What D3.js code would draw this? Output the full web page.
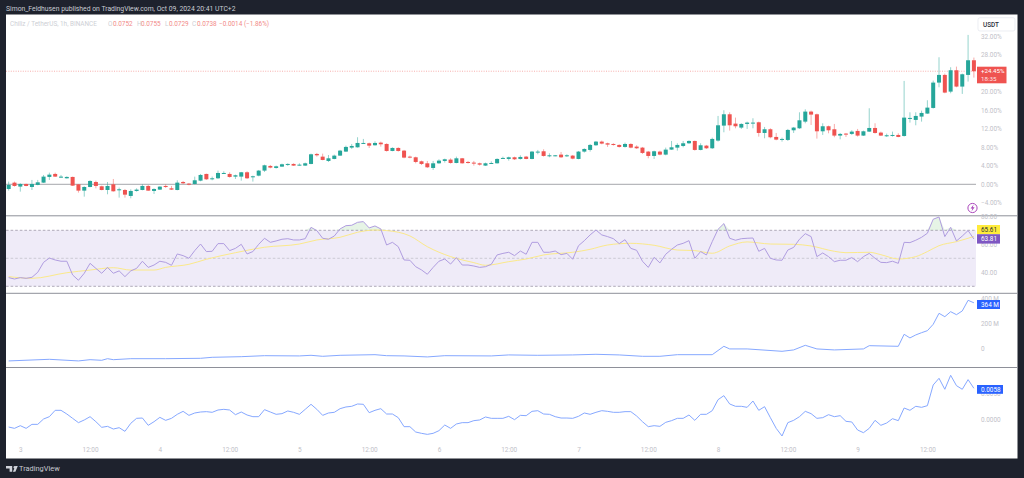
<!DOCTYPE html>
<html><head><meta charset="utf-8">
<script src="https://cdn.jsdelivr.net/npm/d3@7/dist/d3.min.js"></script>
<style>html,body{margin:0;padding:0;background:#1e222d;overflow:hidden}svg{display:block}text{font-family:Roboto,sans-serif}</style>
</head><body><svg id="c" width="1024" height="478"></svg>
<script>
// Candle values, % change against the chart's start
const opens=[-1.01,.36,-.50,.07,-.58,-.14,.36,1.59,2.24,1.44,
1.30,1.59,0,-1.37,-.58,.50,-.43,-1.23,0,-1.30,
-1.23,-2.52,-1.44,-1.23,-.36,-1.44,-1.15,-.36,-.87,-1.23,
.50,.14,.07,.79,2.24,1.08,1.30,2.31,2.24,1.66,
1.66,2.60,1.59,1.87,2.96,3.97,3.53,3.82,4.25,4.40,
4.11,4.04,4.40,6.56,5.98,5.05,5.48,6.20,
7.07,7.93,8.00,8.80,8.87,8.44,9.01,8.72,7.21,7.86,
7.28,5.98,5.84,4.97,4.54,3.53,4.54,5.05,5.34,4.61,
5.62,4.83,4.69,4.54,4.04,4.47,4.54,5.55,5.48,5.84,
5.48,5.98,5.48,6.92,7.14,6.13,6.13,6.42,6.13,6.20,
5.48,7.07,7.43,8.44,9.23,8.87,8.72,8.51,8.08,8.72,
8.15,7.93,7.07,6.13,7.07,6.42,7.50,7.93,
8.29,8.87,9.37,7.43,8.36,7.79,9.45,12.69,15.14,13.12,
12.26,13.05,13.19,13.41,11.10,11.90,10.24,9.66,9.59,11.68,
12.11,13.55,15.72,15.14,11.46,12.55,11.90,10.53,10.96,10.89,
11.54,10.53,11.39,12.18,11.18,10.53,10.53,10.67,10.45,14.20,
13.92,14.64,15.29,16.51,21.99,23.65,20.04,24.66,21.13,23.65,26.82];
const highs=[.58,.58,.22,.14,.94,.94,2.02,2.52,2.52,2.02,
1.73,1.66,0,-.43,.87,.79,-.29,.50,1.15,-.72,
-1.01,-1.08,-.87,0,-.14,-.87,-.43,0,-.36,.87,
.72,.29,1.66,2.24,2.31,1.66,2.96,2.81,2.60,2.09,
2.67,2.81,1.87,3.10,4.25,4.18,4.04,4.47,4.54,4.54,
4.54,4.69,6.63,6.78,6.63,6.34,6.42,7.43,
8.36,8.72,10.17,9.81,9.01,9.30,9.23,8.87,8.00,8.00,
7.43,6.20,5.98,5.12,5.05,5.05,5.41,5.55,5.62,5.98,
5.70,5.05,5.05,4.69,4.69,4.97,5.62,5.98,5.98,5.98,
6.27,6.13,7.21,7.43,7.57,6.70,6.34,6.99,6.49,6.34,
7.21,7.79,8.72,9.37,9.45,9.01,8.87,8.65,9.01,8.87,
8.44,8.08,7.21,7.28,7.28,7.93,9.37,8.87,
9.37,9.52,9.45,8.87,8.51,10.09,14.78,16.01,15.57,14.42,
13.19,13.55,14.28,13.55,12.40,12.11,11.10,10.09,11.97,12.40,
15.57,16.22,15.93,15.29,13.19,12.69,13.05,11.10,11.10,11.68,
11.97,11.61,16.44,13.19,11.39,10.96,11.39,11.03,22.35,15.57,
15.57,15.93,18.17,22.42,27.47,23.94,25.31,25.45,23.94,32.30,27.40];
const lows=[-1.37,-.50,-1.59,-.43,-1.23,-.22,.29,.94,1.59,1.37,
1.23,-.36,-1.80,-2.67,-.65,-.87,-1.30,-2.16,-1.59,-2.88,
-2.88,-3.03,-1.59,-1.30,-1.44,-2.09,-1.23,-.79,-1.23,-1.30,
.07,-.22,0,.65,.94,.87,1.15,2.24,1.44,1.15,
.79,1.15,.58,1.73,2.67,3.46,3.39,3.75,3.97,3.97,
4.04,3.97,4.33,5.98,5.19,4.83,5.41,6.13,
6.99,7.64,7.93,8.72,7.86,8.36,8.15,7.07,7.14,7.07,
5.62,5.62,4.54,4.18,3.53,3.10,4.40,4.69,4.47,4.54,
4.47,4.47,4.04,4.04,3.97,4.40,4.47,5.48,5.12,5.26,
5.34,5.41,5.41,6.49,5.98,5.84,6.06,5.70,5.91,5.41,
5.41,6.85,7.07,8.29,8.65,8.08,8.36,7.93,7.93,7.79,
7.64,6.56,5.62,5.48,6.27,6.27,7.43,7.28,
8.00,8.72,7.28,7.35,7.64,7.64,9.23,11.25,11.61,12.11,
11.97,11.97,12.11,10.31,9.95,9.95,9.52,9.23,9.37,11.10,
11.97,13.19,12.83,9.88,10.67,11.03,10.17,9.73,10.24,10.67,
10.31,10.45,11.32,10.96,10.45,10.24,10.31,10.17,10.31,13.34,
12.76,13.55,15.21,16.37,20.98,19.68,19.68,20.98,19.54,22.21,23.07];
const closes=[-.14,-.36,.07,-.36,.07,.43,1.66,2.09,1.66,1.66,
1.59,-.29,-1.37,-.58,.72,-.36,-1.23,-.36,-1.51,-1.08,
-2.24,-1.44,-1.15,-.36,-1.37,-1.01,-.50,-.58,-1.15,.36,
.22,-.07,.87,2.02,1.08,1.30,2.45,2.45,1.59,1.95,
2.60,1.30,1.73,2.96,4.11,3.61,3.89,4.33,4.40,4.04,
4.25,4.54,6.49,6.27,5.26,5.62,6.20,7.28,
8.08,8.29,8.94,8.94,8.36,8.94,8.65,7.21,7.86,7.21,
5.77,5.77,4.83,4.40,3.68,4.54,5.12,5.41,4.61,5.62,
4.54,4.61,4.47,4.25,4.54,4.61,5.48,5.70,5.84,5.41,
5.91,5.48,7.07,7.07,6.13,6.27,6.27,5.84,6.27,5.55,
7.07,7.64,8.51,9.23,8.80,8.58,8.51,8.08,8.72,7.93,
7.79,6.78,6.13,7.14,6.42,7.50,8.00,8.51,
8.87,9.37,7.43,8.44,7.79,9.81,12.76,15.14,12.76,12.55,
13.05,13.34,13.34,11.10,11.90,10.17,9.66,9.81,11.75,12.26,
13.84,15.72,15.07,11.46,12.55,11.68,10.53,10.89,10.82,11.39,
10.53,11.46,12.18,11.10,10.53,10.60,10.67,10.24,14.42,14.35,
14.78,15.43,16.58,21.99,23.65,19.83,24.66,21.13,23.79,26.82,24.45];
// RSI per candle
const rsi=[36.2,35.2,36.2,35.7,36.4,40.0,47.1,50.2,48.8,47.9,47.9,38.1,34.3,39.3,46.4,42.8,39.3,43.5,39.3,41.0,
36.9,41.0,42.8,47.9,43.5,45.2,47.9,47.1,45.0,53.1,51.9,50.0,55.5,60.2,54.8,55.0,60.5,60.5,55.5,57.1,
60.0,53.1,54.8,60.0,64.3,61.4,62.4,63.6,64.0,63.1,63.1,64.0,72.1,69.8,64.3,63.6,65.9,71.0,
73.3,73.6,75.7,76.2,71.7,73.1,71.0,59.5,61.4,58.3,48.8,48.6,44.0,41.7,38.6,43.5,47.9,49.5,45.9,50.5,
45.2,45.2,44.5,43.5,44.0,45.7,52.4,53.5,54.3,51.9,55.2,52.9,61.4,61.4,54.3,54.3,55.2,52.6,53.5,49.3,
59.0,62.6,66.7,70.2,66.7,65.5,64.0,60.5,63.3,57.1,55.7,47.9,43.5,50.7,46.7,52.9,56.4,59.5,
60.7,62.6,50.0,54.8,52.4,61.9,70.7,74.8,64.3,62.9,64.0,64.3,64.5,55.0,57.1,50.0,48.8,48.6,55.9,57.8,
63.6,67.6,65.5,51.2,53.8,51.2,47.6,48.6,48.6,50.5,47.6,51.2,53.5,50.0,47.1,46.9,47.9,46.4,61.4,61.2,
62.9,65.0,67.9,77.9,79.5,65.5,72.1,62.4,65.9,69.8,63.81];
// RSI moving average, read at these candle positions
const rsiMaAt=[0,4,10,14,18,21,25,27,31,34,39,44,50,53,57,60,63,65,69,72,76,80,82,86,89,92,97,100,103,107,111,115,118,121,124,127,131,135,138,142,144,148,150,153,156,158,160,163,166];
const rsiMa=[36.9,35.7,39.7,41.6,43.3,41.6,41.6,43.5,45.7,49.3,54.0,57.9,60.2,63.1,65.0,68.6,70.2,69.8,66.0,58.3,51.2,46.9,45.0,47.6,49.5,52.4,54.3,56.4,59.5,60.7,59.3,55.9,55.5,53.6,58.8,61.7,60.2,60.0,58.8,55.0,54.0,54.3,52.6,49.5,51.2,54.8,59.0,61.9,65.61];
// Third pane, millions, read at these candle positions
const flowAt=[0,7,12,14,16,17,18,21,27,33,35,40,44,50,52,54,57,63,65,68,72,75,83,86,91,97,101,105,109,112,115,121,123,124,127,133,135,137,139,142,147,148,153,154,155,156,157,158,159,160,161,162,163,164,165,166];
const flow=[-101,-88,-101,-91,-96,-83,-91,-83,-83,-80,-72,-67,-59,-61,-56,-64,-56,-51,-59,-61,-69,-59,-61,-53,-56,-53,-48,-53,-64,-64,-51,-51,16,-5,-5,-24,-13,24,-5,-13,-5,21,16,112,83,107,125,141,192,280,253,293,269,299,384,364];
// Fourth pane, in ten-thousandths, per candle
const momentumE4=[-15.6,-18.2,-13.0,-18.2,-10.4,-10.4,0,4.5,16.9,16.9,9.7,1.3,-7.1,-1.9,4.5,-5.2,-16.2,-14.3,-19.5,-16.9,
-24.0,-8.4,1.3,1.9,-12.3,-5.2,3.2,-2.6,1.3,9.1,14.9,7.1,11.7,13.6,14.3,13.0,17.5,18.8,17.5,8.4,
13.6,7.8,4.5,4.5,18.2,13.6,9.1,10.4,15.6,13.0,9.1,18.8,28.6,18.8,7.1,11.7,13.0,20.1,
23.4,24.7,29.2,28.6,12.3,16.9,20.1,9.7,9.7,2.6,-14.9,-14.9,-25.3,-27.9,-29.9,-27.9,-22.7,-11.7,-18.2,-9.7,
-7.1,-7.1,-3.2,-1.9,3.9,1.3,1.3,1.3,5.2,-1.3,7.1,6.5,14.9,16.2,9.7,9.1,4.5,1.9,1.9,1.3,
5.2,11.7,9.1,13.0,16.2,14.9,13.0,13.0,14.3,14.3,5.8,-5.2,-14.9,-13.0,-14.3,-6.5,-3.2,1.3,
1.3,7.8,-2.6,9.1,9.1,16.2,37.6,45.4,29.2,24.7,24.7,22.7,35.0,16.9,24.0,2.6,-18.2,-33.1,-7.1,-2.6,
4.5,14.9,10.4,1.3,2.6,8.4,4.5,6.5,-4.5,-5.8,-21.4,-26.6,-18.2,-2.6,-12.3,-7.8,0.6,-3.2,21.4,16.9,
24.7,22.7,25.9,66.2,79.2,57.8,85.0,64.9,57.8,76.6,59.7];
// Tick labels
const priceTicks=[-4,0,4,8,12,16,20,24,28,32];
const rsiTicks=[40,60,80];
const flowTicks=[0,200,400];
const momentumTicks=[0,0.005];
const timeAt=[2,14,26,38,50,62,74,86,98,110,122,134,146,158];
const timeLabels=["3","12:00","4","12:00","5","12:00","6","12:00","7","12:00","8","12:00","9","12:00"];
const rsiBands=[70,50,30];

const UP="#26a69a",DOWN="#ef5350",AXIS="#bfc1c8";
const svg=d3.select("#c");
const plotL=6,plotR=976,chartR=1017.5;
const x=d3.scaleLinear().domain([0,166]).range([8.67,973.9]);
const yP=d3.scaleLinear().domain([0,32]).range([184.3,36.3]);
const yR=d3.scaleLinear().domain([30,70]).range([286.3,230.3]);
const yF=d3.scaleLinear().domain([0,400]).range([348.3,298.3]);
const yM=d3.scaleLinear().domain([0,0.005]).range([419,393.3]);

svg.append("rect").attr("x",plotL).attr("y",14.5).attr("width",chartR-plotL).attr("height",444).attr("fill","#fff");
const defs=svg.append("defs");
defs.append("clipPath").attr("id","plot").append("rect").attr("x",plotL).attr("y",15).attr("width",plotR-plotL).attr("height",443);

// header
svg.append("text").attr("x",6).attr("y",10.6).attr("font-size",6.8).attr("fill","#c9ccd4")
  .text("Simon_Feldhusen published on TradingView.com, Oct 09, 2024 20:41 UTC+2");
const leg=svg.append("g").attr("font-size",6.4).attr("fill","#f28a88");
leg.append("text").attr("x",10).attr("y",25.5).attr("fill","#cdcfd5").text("Chiliz / TetherUS, 1h, BINANCE");
[["O",108,"0.0752",113],["H",137,"0.0755",141],["L",165,"0.0729",169],["C",192,"0.0738",197]].forEach(d=>{
  leg.append("text").attr("x",d[1]).attr("y",25.5).attr("fill","#cdcfd5").text(d[0]);
  leg.append("text").attr("x",d[3]).attr("y",25.5).text(d[2]);
});
leg.append("text").attr("x",219).attr("y",25.5).text("\u22120.0014 (\u22121.86%)");

// pane separators
[215.8,293.3,367.5].forEach(v=>svg.append("line").attr("x1",plotL).attr("x2",chartR).attr("y1",v).attr("y2",v).attr("stroke","#8e9099").attr("stroke-width",1));

// price pane reference lines
svg.append("line").attr("x1",plotL).attr("x2",plotR).attr("y1",yP(0)).attr("y2",yP(0)).attr("stroke","#9b9ca3").attr("stroke-width",.9);
svg.append("line").attr("x1",plotL).attr("x2",plotR).attr("y1",yP(24.45)).attr("y2",yP(24.45)).attr("stroke","#f59a98").attr("stroke-width",.8).attr("stroke-dasharray","1 1.4");

// candles
const idx=d3.range(closes.length);
const cg=svg.append("g").attr("clip-path","url(#plot)");
cg.selectAll("line.w").data(idx).join("line").attr("class","w")
  .attr("x1",i=>x(i)).attr("x2",i=>x(i)).attr("y1",i=>yP(highs[i])).attr("y2",i=>yP(lows[i]))
  .attr("stroke",i=>closes[i]>=opens[i]?UP:DOWN).attr("stroke-width",.7).attr("stroke-opacity",.7);
cg.selectAll("rect.b").data(idx).join("rect").attr("class","b")
  .attr("x",i=>x(i)-2).attr("width",4)
  .attr("y",i=>yP(Math.max(opens[i],closes[i])))
  .attr("height",i=>Math.max(1,yP(Math.min(opens[i],closes[i]))-yP(Math.max(opens[i],closes[i]))))
  .attr("fill",i=>closes[i]>=opens[i]?UP:DOWN);

// RSI pane
svg.append("rect").attr("x",plotL).attr("width",plotR-plotL).attr("y",yR(70)).attr("height",yR(30)-yR(70)).attr("fill","#7e57c2").attr("fill-opacity",.12);
rsiBands.forEach(b=>svg.append("line").attr("x1",plotL).attr("x2",plotR).attr("y1",yR(b)).attr("y2",yR(b))
  .attr("stroke",b===50?"#c4c1cc":"#9d98a8").attr("stroke-width",.8).attr("stroke-dasharray","2.6 2"));
svg.append("path").attr("clip-path","url(#plot)").attr("fill","#4caf50").attr("fill-opacity",.14)
  .attr("d",d3.area().x((d,i)=>x(i)).y0(yR(70)).y1(d=>yR(Math.max(d,70)))(rsi));
svg.append("path").attr("fill","none").attr("stroke","#fbe98a").attr("stroke-width",1)
  .attr("d",d3.line().x(d=>x(d[0])).y(d=>yR(d[1])).curve(d3.curveMonotoneX)(rsiMaAt.map((a,i)=>[a,rsiMa[i]])));
svg.append("path").attr("fill","none").attr("stroke","#b09de0").attr("stroke-width",1)
  .attr("d",d3.line().x((d,i)=>x(i)).y(d=>yR(d))(rsi));

// flow pane
svg.append("path").attr("fill","none").attr("stroke","#86a8ff").attr("stroke-width",1)
  .attr("d",d3.line().x(d=>x(d[0])).y(d=>yF(d[1]))(flowAt.map((a,i)=>[a,flow[i]])));
// momentum pane
svg.append("path").attr("fill","none").attr("stroke","#86a8ff").attr("stroke-width",1)
  .attr("d",d3.line().x((d,i)=>x(i)).y(d=>yM(d/1e4))(momentumE4));

// axes
function style(g){
  g.select(".domain").remove(); g.selectAll(".tick line").remove();
  g.selectAll("text").attr("fill",AXIS).attr("font-size",6.4).attr("font-family","Roboto,sans-serif");
}
function right(scale,ticks,fmt){
  svg.append("g").attr("transform",`translate(${plotR+5},0)`)
    .call(d3.axisRight(scale).tickValues(ticks).tickSize(0).tickPadding(0).tickFormat(fmt)).call(style);
}
right(yP,priceTicks,d=>(d<0?"\u2212":"")+Math.abs(d).toFixed(2)+"%");
right(yR,rsiTicks,d=>d.toFixed(2));
right(yF,flowTicks,d=>d===0?"0":d+" M");
right(yM,momentumTicks,d=>d.toFixed(4));
svg.append("g").attr("transform","translate(0,447)")
  .call(d3.axisBottom(x).tickValues(timeAt).tickSize(0).tickPadding(0).tickFormat((d,i)=>timeLabels[i])).call(style);

// USDT button
svg.append("rect").attr("x",978).attr("y",17.7).attr("width",37).attr("height",13.3).attr("rx",2).attr("fill","#fff").attr("stroke","#e4e6ee").attr("stroke-width",.7);
svg.append("text").attr("x",983).attr("y",26.8).attr("font-size",6.4).attr("font-weight",500).attr("fill","#2a2e39").text("USDT");

// value tags
function tag(y0,h,w,fill,color,txt){
  svg.append("rect").attr("x",977).attr("y",y0).attr("width",w).attr("height",h).attr("fill",fill);
  svg.append("text").attr("x",981).attr("y",y0+h/2+2.3).attr("font-size",6.4).attr("fill",color).text(txt);
}
svg.append("rect").attr("x",977).attr("y",66.7).attr("width",29.5).attr("height",16.6).attr("fill","#ef5350");
svg.append("text").attr("x",981).attr("y",73.4).attr("font-size",6.2).attr("fill","#fff").text("+24.45%");
svg.append("text").attr("x",981).attr("y",81.4).attr("font-size",6.2).attr("fill","#fde4e4").text("18:35");
tag(225,9.2,23,"#ffeb3b","#2a2e39","65.61");
tag(234.2,9.4,23,"#7e57c2","#fff","63.81");
tag(300,9,23,"#2962ff","#fff","364 M");
tag(385,8.8,26,"#2962ff","#fff","0.0058");

// alert badge
svg.append("circle").attr("cx",972.5).attr("cy",208).attr("r",4.6).attr("fill","#fff").attr("stroke","#ab47bc").attr("stroke-width",1);
svg.append("path").attr("fill","#ab47bc").attr("d","M973.6 204.6L970.6 208.6L972.4 208.6L971.5 211.4L974.6 207.3L972.8 207.3Z");

// footer logo
svg.append("path").attr("fill","#d1d4dc").attr("d","M6 466H12.2V471.8H9.6V468.4H6ZM15.4 466L17.8 466L15.4 471.8H12.9ZM13.4 467.2A1.2 1.2 0 1 1 13.4 467.21Z");
svg.append("text").attr("x",19).attr("y",471).attr("font-size",7.4).attr("fill","#c8cad1").text("TradingView");
</script></body></html>
